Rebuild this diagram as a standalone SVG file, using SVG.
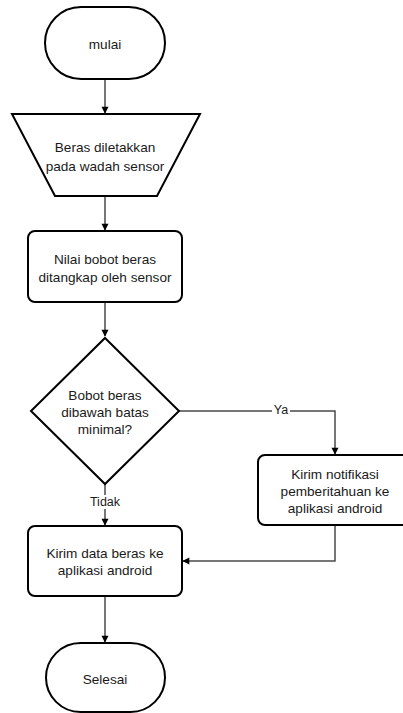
<svg xmlns="http://www.w3.org/2000/svg" width="403" height="713" viewBox="0 0 403 713">
<style>
.shape{fill:#fff;stroke:#000;stroke-width:2}
.t{font-family:"Liberation Sans",Arial,sans-serif;font-size:13.6px;fill:#1a1a1a;text-anchor:middle;dominant-baseline:central}
.c{fill:none;stroke:#4a4a4a;stroke-width:1.5}
.lbl{font-family:"Liberation Sans",Arial,sans-serif;font-size:12.5px;fill:#1a1a1a;text-anchor:middle;dominant-baseline:central}
</style>
<defs>
<marker id="ah" viewBox="0 0 10 10" refX="9" refY="5" markerWidth="7" markerHeight="7" markerUnits="userSpaceOnUse" orient="auto" overflow="visible">
<path d="M0,0 L10,5 L0,10 Z" fill="#000"/>
</marker>
</defs>
<rect width="403" height="713" fill="#fff"/>
<g id="connectors">
<path class="c" d="M105,79 V113" marker-end="url(#ah)"/>
<path class="c" d="M105,196 V230" marker-end="url(#ah)"/>
<path class="c" d="M105,302 V336" marker-end="url(#ah)"/>
<path class="c" d="M179,411 H335 V454" marker-end="url(#ah)"/>
<path class="c" d="M105,484 V525" marker-end="url(#ah)"/>
<path class="c" d="M335,526 V561 H183" marker-end="url(#ah)"/>
<path class="c" d="M105,596 V642" marker-end="url(#ah)"/>
<rect x="272" y="404" width="18" height="14" fill="#fff"/>
<text class="lbl" x="281" y="410">Ya</text>
<rect x="88" y="495" width="34" height="14" fill="#fff"/>
<text class="lbl" x="105" y="502">Tidak</text>
</g>
<g id="mulai">
<rect class="shape" x="45" y="7" width="120" height="72" rx="36" ry="36"/>
<text class="t" x="105" y="44">mulai</text>
</g>
<g id="beras-diletakkan">
<path class="shape" d="M12,114 H200 L157,196 H55 Z"/>
<text class="t" x="105" y="147">Beras diletakkan</text>
<text class="t" x="105" y="166">pada wadah sensor</text>
</g>
<g id="nilai-bobot">
<rect class="shape" x="28" y="231" width="154" height="71" rx="7"/>
<text class="t" x="105" y="259">Nilai bobot beras</text>
<text class="t" x="105" y="277">ditangkap oleh sensor</text>
</g>
<g id="keputusan">
<path class="shape" d="M105,338 L179,411 L105,484 L31,411 Z"/>
<text class="t" x="105" y="395">Bobot beras</text>
<text class="t" x="105" y="412">dibawah batas</text>
<text class="t" x="105" y="429">minimal?</text>
</g>
<g id="kirim-notifikasi">
<rect class="shape" x="258" y="455" width="154" height="70" rx="7"/>
<text class="t" x="335" y="474">Kirim notifikasi</text>
<text class="t" x="335" y="491">pemberitahuan ke</text>
<text class="t" x="335" y="508">aplikasi android</text>
</g>
<g id="kirim-data">
<rect class="shape" x="28" y="526" width="154" height="70" rx="7"/>
<text class="t" x="105" y="553">Kirim data beras ke</text>
<text class="t" x="105" y="570">aplikasi android</text>
</g>
<g id="selesai">
<rect class="shape" x="46" y="643" width="119" height="69" rx="34.5" ry="34.5"/>
<text class="t" x="105" y="679">Selesai</text>
</g>
</svg>
